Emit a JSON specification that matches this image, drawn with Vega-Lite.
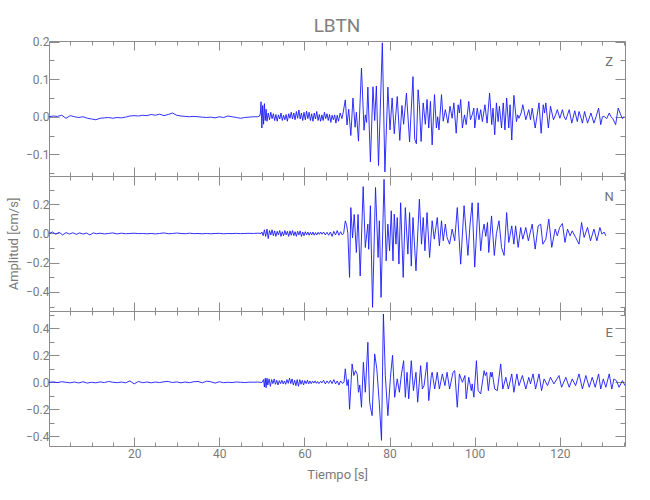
{
  "$schema": "https://vega.github.io/schema/vega-lite/v6.json",
  "padding": {"left": 7, "top": 16, "right": 26, "bottom": 20},
  "background": "white",
  "title": {"text": "LBTN", "fontSize": 19, "font": "Roboto", "fontWeight": "normal", "color": "#808080", "anchor": "middle", "frame": "group", "offset": 0},
  "config": {
    "view": {"stroke": null},
    "font": "Roboto",
    "axis": {"domainColor": "#8c8c8c", "tickColor": "#8c8c8c", "labelColor": "#7a7a7a", "titleColor": "#7a7a7a", "grid": false, "labelFont": "Roboto", "labelFontSize": 12, "titleFont": "Roboto", "titleFontSize": 13, "titleFontWeight": "normal", "labelOverlap": false, "labelFlush": false, "tickWidth": 1, "domainWidth": 1}
  },
  "datasets": {
    "Z": [
      {"t":0,"v":0},{"t":1,"v":0.002},{"t":2,"v":0.001},{"t":3,"v":0.004},{"t":4,"v":-0.004},{"t":5,"v":0.003},{"t":6,"v":0},{"t":7,"v":-0.002},{"t":8,"v":0},{"t":9,"v":-0.004},{"t":10,"v":-0.006},{"t":11,"v":-0.008},{"t":12,"v":-0.004},{"t":13,"v":-0.003},{"t":14,"v":-0.002},{"t":15,"v":-0.004},{"t":16,"v":-0.002},{"t":17,"v":-0.003},{"t":18,"v":-0.001},{"t":19,"v":0.002},{"t":20,"v":0.003},{"t":21,"v":0.002},{"t":22,"v":0.004},{"t":23,"v":0.003},{"t":24,"v":0.006},{"t":25,"v":0.004},{"t":26,"v":0.007},{"t":27,"v":0.003},{"t":28,"v":0.006},{"t":29,"v":0.01},{"t":30,"v":0.004},{"t":31,"v":0.002},{"t":32,"v":0.001},{"t":33,"v":0},{"t":34,"v":0.001},{"t":35,"v":0},{"t":36,"v":-0.001},{"t":37,"v":-0.002},{"t":38,"v":-0.001},{"t":39,"v":-0.003},{"t":40,"v":0},{"t":41,"v":-0.002},{"t":42,"v":0.002},{"t":43,"v":0},{"t":44,"v":-0.002},{"t":45,"v":-0.004},{"t":46,"v":-0.002},{"t":47,"v":-0.001},{"t":48,"v":0},{"t":49,"v":0},{"t":49.5,"v":0.002},
      {"t":49.65,"v":0.01},{"t":49.8,"v":0.04},{"t":50.0,"v":-0.03},{"t":50.2,"v":0.03},{"t":50.4,"v":-0.02},{"t":50.6,"v":0.035},{"t":50.8,"v":-0.01},{"t":51.0,"v":0.02},{"t":51.2,"v":-0.012},{"t":51.5,"v":0.01},{"t":51.8,"v":-0.008},{"t":52.1,"v":0.012},{"t":52.4,"v":-0.005},{"t":52.7,"v":0.008},{"t":53.0,"v":-0.01},{"t":53.3,"v":0.006},{"t":53.6,"v":-0.012},{"t":53.9,"v":0.005},{"t":54.2,"v":-0.006},{"t":54.5,"v":0.01},{"t":54.8,"v":-0.01},{"t":55.1,"v":0.004},{"t":55.4,"v":-0.008},{"t":55.7,"v":0.006},{"t":56.0,"v":-0.012},{"t":56.3,"v":0.008},{"t":56.6,"v":-0.004},{"t":56.9,"v":0.012},{"t":57.2,"v":-0.006},{"t":57.5,"v":0.01},{"t":57.8,"v":-0.008},{"t":58.1,"v":0.014},{"t":58.4,"v":-0.004},{"t":58.7,"v":0.018},{"t":59.0,"v":-0.006},{"t":59.3,"v":0.01},{"t":59.6,"v":-0.01},{"t":59.9,"v":0.012},{"t":60.2,"v":-0.008},{"t":60.5,"v":0.015},{"t":60.8,"v":-0.005},{"t":61.1,"v":0.012},{"t":61.4,"v":-0.01},{"t":61.7,"v":0.008},{"t":62.0,"v":-0.012},{"t":62.3,"v":0.01},{"t":62.6,"v":-0.006},{"t":62.9,"v":0.014},{"t":63.2,"v":-0.01},{"t":63.5,"v":0.006},{"t":63.8,"v":-0.012},{"t":64.1,"v":0.005},{"t":64.4,"v":-0.01},{"t":64.7,"v":0.012},{"t":65.0,"v":-0.005},{"t":65.3,"v":0.008},{"t":65.6,"v":-0.01},{"t":65.9,"v":0.006},{"t":66.2,"v":-0.015},{"t":66.5,"v":0.004},{"t":66.8,"v":-0.008},{"t":67.1,"v":0.005},{"t":67.4,"v":-0.017},{"t":67.7,"v":0.004},{"t":68.0,"v":-0.012},{"t":68.4,"v":0.01},{"t":68.8,"v":-0.005},
      {"t":69.0,"v":0.005},{"t":69.6,"v":0.045},{"t":70.0,"v":-0.022},{"t":70.4,"v":0.02},{"t":70.9,"v":-0.05},{"t":71.4,"v":0.05},{"t":71.9,"v":-0.028},{"t":72.2,"v":0.012},{"t":72.7,"v":-0.065},{"t":73.4,"v":0.13},{"t":74.0,"v":-0.036},{"t":74.3,"v":0.005},{"t":74.6,"v":-0.015},{"t":74.9,"v":0.079},{"t":75.5,"v":-0.12},{"t":76.1,"v":0.08},{"t":76.5,"v":-0.01},{"t":76.9,"v":0.082},{"t":77.4,"v":-0.13},{"t":78.3,"v":0.197},{"t":78.9,"v":-0.147},{"t":79.6,"v":0.079},{"t":80.1,"v":-0.035},{"t":80.6,"v":0.05},{"t":81.1,"v":-0.045},{"t":81.8,"v":0.054},{"t":82.4,"v":-0.063},{"t":82.9,"v":0.03},{"t":83.3,"v":-0.02},{"t":83.96,"v":0.063},{"t":84.7,"v":-0.067},{"t":85.5,"v":0.107},{"t":85.9,"v":-0.06},{"t":86.3,"v":-0.072},{"t":86.7,"v":0.072},{"t":87.0,"v":0.032},{"t":87.4,"v":-0.066},{"t":87.9,"v":0.037},{"t":88.4,"v":-0.02},{"t":88.8,"v":0.046},{"t":89.2,"v":-0.03},{"t":89.6,"v":0.041},{"t":90.0,"v":-0.075},{"t":90.55,"v":0.059},{"t":91.0,"v":-0.03},{"t":91.3,"v":0.0},{"t":91.6,"v":-0.035},{"t":92.2,"v":0.059},{"t":92.6,"v":-0.012},{"t":93.1,"v":0.019},{"t":93.7,"v":-0.017},{"t":94.2,"v":0.028},{"t":94.7,"v":-0.004},{"t":95.1,"v":0.037},{"t":95.65,"v":-0.044},{"t":96.1,"v":0.032},{"t":96.4,"v":0.01},{"t":96.7,"v":0.046},{"t":97.1,"v":-0.03},{"t":97.6,"v":0.005},{"t":98.0,"v":-0.021},{"t":98.6,"v":0.041},{"t":99.0,"v":-0.008},{"t":99.4,"v":0.005},{"t":99.8,"v":0.023},{"t":100.0,"v":-0.03},{"t":100.6,"v":0.023},{"t":101.0,"v":-0.008},{"t":101.4,"v":0.019},{"t":101.8,"v":-0.013},{"t":102.4,"v":0.032},{"t":102.9,"v":-0.017},{"t":103.5,"v":0.063},{"t":104.0,"v":-0.021},{"t":104.3,"v":0.023},{"t":104.7,"v":-0.048},{"t":105.1,"v":0.037},{"t":105.5,"v":-0.013},{"t":105.8,"v":0.028},{"t":106.3,"v":-0.03},{"t":106.7,"v":0.037},{"t":107.1,"v":-0.035},{"t":107.5,"v":0.05},{"t":108.0,"v":-0.03},{"t":108.3,"v":0.032},{"t":108.7,"v":-0.062},{"t":109.2,"v":0.057},{"t":109.8,"v":-0.013},{"t":110.1,"v":0.005},{"t":110.4,"v":-0.004},{"t":110.9,"v":0.01},{"t":111.3,"v":0.032},{"t":112.0,"v":-0.008},{"t":112.7,"v":0.019},{"t":113.1,"v":-0.008},{"t":113.5,"v":0.023},{"t":114.2,"v":-0.03},{"t":114.6,"v":0.0},{"t":115.1,"v":0.037},{"t":115.6,"v":-0.044},{"t":116.1,"v":0.032},{"t":116.4,"v":0.01},{"t":116.7,"v":0.037},{"t":117.3,"v":-0.03},{"t":117.8,"v":0.028},{"t":118.5,"v":-0.008},{"t":119.0,"v":0.005},{"t":119.4,"v":0.019},{"t":120.0,"v":-0.004},{"t":120.6,"v":0.019},{"t":121.0,"v":0.0},{"t":121.4,"v":-0.008},{"t":122.2,"v":0.019},{"t":122.8,"v":-0.017},{"t":123.5,"v":0.016},{"t":124.1,"v":-0.013},{"t":124.5,"v":0.014},{"t":125.0,"v":-0.004},{"t":125.3,"v":-0.017},{"t":125.8,"v":0.014},{"t":126.5,"v":-0.017},{"t":127.3,"v":0.01},{"t":128.0,"v":-0.017},{"t":128.5,"v":0.0},{"t":129.1,"v":0.023},{"t":129.6,"v":-0.021},{"t":130.0,"v":0.0},{"t":130.4,"v":0.001},{"t":131.0,"v":-0.005},{"t":131.6,"v":0.01},{"t":132.0,"v":0.0},{"t":132.4,"v":-0.004},{"t":133.1,"v":-0.021},{"t":133.7,"v":0.023},{"t":134.3,"v":0.005},{"t":134.7,"v":-0.005},{"t":135.1,"v":0.001}
    ],
    "N": [
      {"t":0,"v":0},{"t":0.8,"v":0.01},{"t":1.6,"v":-0.005},{"t":2.4,"v":0.008},{"t":3.2,"v":-0.01},{"t":4.0,"v":0.006},{"t":4.8,"v":-0.004},{"t":5.6,"v":0.005},{"t":6.4,"v":-0.006},{"t":7.2,"v":0.004},{"t":8.0,"v":-0.004},{"t":8.8,"v":0.003},{"t":9.6,"v":-0.01},{"t":10.4,"v":0.004},{"t":11.2,"v":-0.002},{"t":12,"v":0.002},{"t":13,"v":-0.003},{"t":14,"v":0},{"t":15,"v":0.004},{"t":16,"v":-0.003},{"t":17,"v":0.002},{"t":18,"v":-0.002},{"t":19,"v":0},{"t":20,"v":0.002},{"t":21,"v":-0.001},{"t":22,"v":0},{"t":23,"v":-0.002},{"t":24,"v":0},{"t":25,"v":-0.003},{"t":26,"v":0},{"t":27,"v":0.004},{"t":28,"v":-0.002},{"t":29,"v":0},{"t":30,"v":0.003},{"t":31,"v":0},{"t":32,"v":-0.002},{"t":33,"v":0.002},{"t":34,"v":-0.001},{"t":35,"v":0},{"t":36,"v":-0.002},{"t":37,"v":0},{"t":38,"v":-0.002},{"t":39,"v":0},{"t":40,"v":0.001},{"t":41,"v":-0.002},{"t":42,"v":0},{"t":43,"v":-0.001},{"t":44,"v":0.001},{"t":45,"v":-0.001},{"t":46,"v":0},{"t":47,"v":0.001},{"t":48,"v":0},{"t":49,"v":0.002},{"t":49.8,"v":0},
      {"t":50.0,"v":0.01},{"t":50.3,"v":-0.015},{"t":50.6,"v":0.025},{"t":50.9,"v":-0.02},{"t":51.2,"v":0.03},{"t":51.5,"v":-0.035},{"t":51.8,"v":0.02},{"t":52.1,"v":-0.01},{"t":52.4,"v":0.025},{"t":52.7,"v":-0.015},{"t":53.0,"v":0.018},{"t":53.3,"v":-0.02},{"t":53.6,"v":0.015},{"t":53.9,"v":-0.01},{"t":54.2,"v":0.02},{"t":54.5,"v":-0.02},{"t":54.8,"v":0.012},{"t":55.1,"v":-0.015},{"t":55.4,"v":0.02},{"t":55.7,"v":-0.01},{"t":56.0,"v":0.015},{"t":56.3,"v":-0.02},{"t":56.6,"v":0.018},{"t":56.9,"v":-0.012},{"t":57.2,"v":0.02},{"t":57.5,"v":-0.015},{"t":57.8,"v":0.012},{"t":58.1,"v":-0.02},{"t":58.4,"v":0.015},{"t":58.7,"v":-0.01},{"t":59.0,"v":0.018},{"t":59.3,"v":-0.02},{"t":59.6,"v":0.01},{"t":59.9,"v":-0.015},{"t":60.2,"v":0.012},{"t":60.5,"v":-0.01},{"t":60.8,"v":0.01},{"t":61.1,"v":-0.012},{"t":61.4,"v":0.008},{"t":61.7,"v":-0.01},{"t":62.0,"v":0.01},{"t":62.3,"v":-0.012},{"t":62.6,"v":0.006},{"t":62.9,"v":-0.01},{"t":63.2,"v":0.008},{"t":63.5,"v":-0.006},{"t":63.8,"v":0.01},{"t":64.1,"v":-0.005},{"t":64.5,"v":0.01},{"t":64.9,"v":-0.01},{"t":65.3,"v":0.008},{"t":65.7,"v":-0.012},{"t":66.1,"v":0.01},{"t":66.5,"v":-0.02},{"t":66.9,"v":0.015},{"t":67.3,"v":-0.01},{"t":67.7,"v":0.02},{"t":68.1,"v":-0.012},{"t":68.5,"v":0.012},{"t":68.9,"v":-0.01},{"t":69.2,"v":0.0},
      {"t":69.6,"v":0.086},{"t":69.9,"v":0.06},{"t":70.2,"v":0.0},{"t":70.6,"v":-0.3},{"t":70.9,"v":0.177},{"t":71.3,"v":-0.03},{"t":71.7,"v":0.13},{"t":72.2,"v":-0.13},{"t":72.6,"v":0.13},{"t":73.1,"v":-0.29},{"t":73.8,"v":0.32},{"t":74.3,"v":-0.096},{"t":74.9,"v":0.064},{"t":75.1,"v":-0.108},{"t":75.5,"v":0.19},{"t":76.0,"v":-0.505},{"t":76.7,"v":0.314},{"t":77.3,"v":-0.164},{"t":77.6,"v":0.087},{"t":78.0,"v":-0.437},{"t":78.7,"v":0.37},{"t":79.2,"v":-0.187},{"t":79.6,"v":0.064},{"t":80.0,"v":-0.118},{"t":80.4,"v":0.155},{"t":80.8,"v":-0.187},{"t":81.1,"v":0.132},{"t":81.5,"v":-0.073},{"t":81.8,"v":0.109},{"t":82.2,"v":-0.209},{"t":82.6,"v":0.21},{"t":83.2,"v":-0.3},{"t":83.7,"v":0.177},{"t":84.3,"v":-0.141},{"t":84.7,"v":0.143},{"t":85.1,"v":-0.223},{"t":85.5,"v":0.109},{"t":86.2,"v":-0.255},{"t":87.0,"v":0.234},{"t":87.5,"v":-0.073},{"t":87.9,"v":0.109},{"t":88.3,"v":-0.118},{"t":88.8,"v":0.143},{"t":89.4,"v":-0.164},{"t":90.0,"v":0.087},{"t":90.5,"v":-0.039},{"t":91.2,"v":0.109},{"t":91.7,"v":-0.084},{"t":92.2,"v":0.087},{"t":92.6,"v":-0.05},{"t":93.1,"v":0.064},{"t":93.5,"v":-0.027},{"t":94.1,"v":-0.073},{"t":94.7,"v":0.03},{"t":95.3,"v":-0.05},{"t":95.9,"v":0.177},{"t":96.7,"v":-0.21},{"t":97.5,"v":0.19},{"t":98.4,"v":-0.15},{"t":98.9,"v":0.064},{"t":99.4,"v":0.21},{"t":100.0,"v":-0.23},{"t":100.8,"v":0.21},{"t":101.4,"v":-0.118},{"t":101.8,"v":0.0},{"t":102.2,"v":0.064},{"t":102.6,"v":-0.02},{"t":103.0,"v":0.075},{"t":103.3,"v":-0.13},{"t":103.95,"v":0.12},{"t":104.6,"v":-0.15},{"t":105.1,"v":0.0},{"t":105.7,"v":0.087},{"t":106.3,"v":-0.096},{"t":106.9,"v":-0.15},{"t":107.5,"v":0.143},{"t":108.0,"v":-0.061},{"t":108.7,"v":0.052},{"t":109.2,"v":-0.073},{"t":109.6,"v":0.052},{"t":110.2,"v":-0.095},{"t":110.8,"v":0.041},{"t":111.3,"v":-0.039},{"t":112.0,"v":0.041},{"t":112.6,"v":-0.05},{"t":113.5,"v":0.064},{"t":114.2,"v":-0.107},{"t":114.9,"v":0.052},{"t":115.5,"v":0.064},{"t":116.0,"v":-0.073},{"t":116.7,"v":-0.039},{"t":117.4,"v":0.098},{"t":118.1,"v":-0.095},{"t":118.9,"v":0.03},{"t":119.4,"v":-0.016},{"t":119.95,"v":0.041},{"t":120.6,"v":0.068},{"t":121.2,"v":-0.061},{"t":121.8,"v":0.03},{"t":122.4,"v":-0.016},{"t":122.9,"v":0.018},{"t":123.7,"v":-0.027},{"t":124.5,"v":-0.073},{"t":125.1,"v":0.075},{"t":125.7,"v":-0.027},{"t":126.5,"v":0.041},{"t":127.2,"v":-0.05},{"t":128.0,"v":0.03},{"t":128.7,"v":-0.05},{"t":129.4,"v":0.041},{"t":129.9,"v":-0.005},{"t":130.4,"v":0.01},{"t":130.8,"v":-0.016}
    ],
    "E": [
      {"t":0,"v":0},{"t":1,"v":0.003},{"t":2,"v":-0.002},{"t":3,"v":0.004},{"t":4,"v":0},{"t":5,"v":-0.004},{"t":6,"v":0.002},{"t":7,"v":-0.005},{"t":8,"v":0.004},{"t":9,"v":-0.006},{"t":10,"v":0},{"t":11,"v":-0.004},{"t":12,"v":0.003},{"t":13,"v":-0.002},{"t":14,"v":0.006},{"t":15,"v":0},{"t":16,"v":-0.003},{"t":17,"v":0.002},{"t":18,"v":-0.004},{"t":19,"v":0.01},{"t":20,"v":-0.012},{"t":21,"v":0.006},{"t":22,"v":-0.003},{"t":23,"v":0.002},{"t":24,"v":-0.004},{"t":25,"v":0.002},{"t":26,"v":-0.002},{"t":27,"v":0.004},{"t":28,"v":0.006},{"t":29,"v":-0.002},{"t":30,"v":0.003},{"t":31,"v":-0.004},{"t":32,"v":0.002},{"t":33,"v":-0.003},{"t":34,"v":0.004},{"t":35,"v":0.006},{"t":36,"v":-0.004},{"t":37,"v":0.008},{"t":38,"v":0.004},{"t":39,"v":-0.006},{"t":40,"v":0.004},{"t":41,"v":-0.003},{"t":42,"v":0},{"t":43,"v":-0.002},{"t":44,"v":0.002},{"t":45,"v":0},{"t":46,"v":-0.002},{"t":47,"v":0.001},{"t":48,"v":0},{"t":49,"v":0.002},{"t":50,"v":-0.002},
      {"t":50.4,"v":0.02},{"t":50.6,"v":-0.035},{"t":50.8,"v":0.03},{"t":51.0,"v":-0.04},{"t":51.2,"v":0.03},{"t":51.4,"v":-0.02},{"t":51.7,"v":0.025},{"t":52.0,"v":-0.03},{"t":52.3,"v":0.02},{"t":52.6,"v":-0.01},{"t":52.9,"v":0.025},{"t":53.2,"v":-0.015},{"t":53.5,"v":0.015},{"t":53.8,"v":-0.02},{"t":54.1,"v":0.012},{"t":54.4,"v":-0.01},{"t":54.7,"v":0.015},{"t":55.0,"v":-0.012},{"t":55.3,"v":0.01},{"t":55.6,"v":-0.015},{"t":55.9,"v":0.02},{"t":56.2,"v":-0.008},{"t":56.5,"v":0.03},{"t":56.8,"v":-0.01},{"t":57.1,"v":0.025},{"t":57.4,"v":-0.02},{"t":57.7,"v":0.015},{"t":58.0,"v":-0.025},{"t":58.3,"v":0.02},{"t":58.6,"v":-0.03},{"t":58.9,"v":0.02},{"t":59.2,"v":-0.015},{"t":59.5,"v":0.015},{"t":59.8,"v":-0.02},{"t":60.1,"v":0.012},{"t":60.4,"v":-0.01},{"t":60.7,"v":0.015},{"t":61.0,"v":-0.012},{"t":61.3,"v":0.01},{"t":61.6,"v":-0.01},{"t":61.9,"v":0.008},{"t":62.2,"v":-0.006},{"t":62.5,"v":0.01},{"t":62.8,"v":-0.008},{"t":63.1,"v":0.006},{"t":63.4,"v":-0.01},{"t":63.8,"v":0.008},{"t":64.1,"v":-0.005},{"t":64.5,"v":0.015},{"t":64.9,"v":-0.012},{"t":65.3,"v":0.01},{"t":65.7,"v":-0.008},{"t":66.1,"v":0.015},{"t":66.5,"v":-0.01},{"t":66.9,"v":0.02},{"t":67.3,"v":-0.012},{"t":67.7,"v":0.01},{"t":68.1,"v":-0.02},{"t":68.5,"v":0.01},{"t":68.9,"v":-0.008},
      {"t":69.3,"v":0.0},{"t":69.6,"v":0.1},{"t":70.0,"v":-0.025},{"t":70.3,"v":0.02},{"t":70.6,"v":-0.2},{"t":71.2,"v":0.136},{"t":71.6,"v":0.05},{"t":72.0,"v":0.086},{"t":72.4,"v":0.06},{"t":72.7,"v":-0.074},{"t":73.0,"v":-0.02},{"t":73.4,"v":-0.185},{"t":73.85,"v":0.148},{"t":74.3,"v":-0.074},{"t":74.9,"v":0.296},{"t":75.3,"v":-0.14},{"t":75.5,"v":-0.185},{"t":75.9,"v":-0.247},{"t":76.5,"v":0.21},{"t":77.0,"v":0.1},{"t":77.6,"v":-0.16},{"t":78.1,"v":-0.43},{"t":78.55,"v":0.506},{"t":79.0,"v":0.05},{"t":79.6,"v":-0.247},{"t":80.2,"v":0.037},{"t":80.7,"v":0.2},{"t":81.2,"v":-0.111},{"t":81.8,"v":0.025},{"t":82.3,"v":-0.074},{"t":82.8,"v":0.062},{"t":83.3,"v":0.16},{"t":83.7,"v":-0.111},{"t":84.1,"v":0.074},{"t":84.5,"v":-0.123},{"t":85.1,"v":0.16},{"t":85.6,"v":-0.062},{"t":86.2,"v":0.074},{"t":86.6,"v":-0.148},{"t":87.3,"v":0.123},{"t":87.7,"v":-0.05},{"t":88.1,"v":-0.025},{"t":88.8,"v":0.148},{"t":89.2,"v":-0.136},{"t":89.8,"v":0.05},{"t":90.0,"v":0.074},{"t":90.6,"v":-0.05},{"t":91.2,"v":0.074},{"t":91.7,"v":-0.05},{"t":92.4,"v":0.062},{"t":93.0,"v":-0.025},{"t":93.5,"v":0.074},{"t":94.1,"v":-0.05},{"t":94.9,"v":0.074},{"t":95.3,"v":0.086},{"t":95.9,"v":-0.185},{"t":96.4,"v":0.062},{"t":97.1,"v":0.0},{"t":97.7,"v":0.05},{"t":98.0,"v":-0.123},{"t":98.6,"v":0.037},{"t":99.2,"v":-0.062},{"t":99.4,"v":-0.012},{"t":99.8,"v":-0.111},{"t":100.4,"v":0.16},{"t":100.8,"v":-0.062},{"t":101.4,"v":-0.086},{"t":102.2,"v":0.086},{"t":102.5,"v":0.05},{"t":102.8,"v":0.074},{"t":103.2,"v":-0.062},{"t":103.7,"v":0.074},{"t":103.9,"v":0.04},{"t":104.1,"v":0.074},{"t":104.7,"v":-0.05},{"t":105.3,"v":-0.062},{"t":106.1,"v":0.136},{"t":106.6,"v":-0.05},{"t":107.3,"v":0.037},{"t":107.9,"v":-0.05},{"t":108.7,"v":0.062},{"t":109.2,"v":-0.074},{"t":109.9,"v":0.062},{"t":110.4,"v":-0.025},{"t":111.2,"v":0.05},{"t":112.0,"v":-0.05},{"t":112.7,"v":0.037},{"t":113.1,"v":-0.012},{"t":113.7,"v":0.062},{"t":114.3,"v":-0.05},{"t":115.1,"v":0.062},{"t":115.7,"v":-0.062},{"t":116.3,"v":0.025},{"t":117.1,"v":-0.025},{"t":117.8,"v":0.037},{"t":118.6,"v":-0.012},{"t":119.8,"v":0.05},{"t":120.4,"v":-0.037},{"t":121.4,"v":0.037},{"t":122.2,"v":-0.037},{"t":122.9,"v":0.025},{"t":123.7,"v":-0.025},{"t":124.5,"v":0.062},{"t":125.3,"v":-0.05},{"t":126.1,"v":0.05},{"t":126.9,"v":-0.037},{"t":127.6,"v":0.037},{"t":128.3,"v":-0.037},{"t":129.1,"v":0.062},{"t":129.6,"v":-0.05},{"t":130.2,"v":0.025},{"t":130.8,"v":-0.037},{"t":131.6,"v":0.062},{"t":132.2,"v":-0.05},{"t":132.7,"v":0.025},{"t":133.3,"v":0.012},{"t":133.9,"v":-0.037},{"t":134.7,"v":0.012},{"t":135.3,"v":-0.025}
    ]
  },
  "vconcat": [
    {
      "width": 576, "height": 135,
      "layer": [
        {
          "data": {"name": "Z"},
          "mark": {"type": "line", "color": "#1a1aff", "strokeWidth": 0.9},
          "encoding": {
            "x": {"field": "t", "type": "quantitative", "scale": {"domain": [0, 135.3], "nice": false, "zero": false},
              "axis": {"orient": "bottom", "values": [5,10,15,20,25,30,35,40,45,50,55,60,65,70,75,80,85,90,95,100,105,110,115,120,125,130,135], "labels": false, "title": null,
                "tickSize": {"condition": {"test": "datum.value % 20 === 0", "value": -9}, "value": -4}}},
            "y": {"field": "v", "type": "quantitative", "scale": {"domain": [-0.158, 0.202], "nice": false, "zero": false},
              "axis": {"orient": "left", "values": [-0.15,-0.1,-0.05,0,0.05,0.1,0.15,0.2], "title": null, "labelPadding": 10,
                "labelExpr": "abs(datum.value*10 - round(datum.value*10)) < 0.001 ? format(datum.value, '.1f') : ''",
                "tickSize": {"condition": {"test": "abs(datum.value*10 - round(datum.value*10)) < 0.001", "value": -10}, "value": -5}}}
          }
        },
        {
          "data": {"name": "Z"},
          "mark": {"type": "line", "strokeOpacity": 0},
          "encoding": {
            "x": {"field": "t", "type": "quantitative", "scale": {"domain": [0, 135.3], "nice": false, "zero": false},
              "axis": {"orient": "top", "values": [5,10,15,20,25,30,35,40,45,50,55,60,65,70,75,80,85,90,95,100,105,110,115,120,125,130,135], "labels": false, "title": null,
                "tickSize": {"condition": {"test": "datum.value % 20 === 0", "value": -9}, "value": -4}}},
            "y": {"field": "v", "type": "quantitative", "scale": {"domain": [-0.158, 0.202], "nice": false, "zero": false},
              "axis": {"orient": "right", "values": [-0.15,-0.1,-0.05,0,0.05,0.1,0.15,0.2], "labels": false, "title": null,
                "tickSize": {"condition": {"test": "abs(datum.value*10 - round(datum.value*10)) < 0.001", "value": -10}, "value": -5}}}
          }
        },
        {
          "data": {"values": [{"comp": "Z"}]},
          "mark": {"type": "text", "font": "Roboto", "fontSize": 13, "color": "#707070", "align": "center", "baseline": "middle"},
          "encoding": {
            "x": {"datum": 131.6, "type": "quantitative", "scale": {"domain": [0, 135.3], "nice": false, "zero": false}, "axis": null},
            "y": {"datum": 0.147, "type": "quantitative", "scale": {"domain": [-0.158, 0.202], "nice": false, "zero": false}, "axis": null},
            "text": {"field": "comp"}
          }
        }
      ]
    },
    {
      "width": 576, "height": 135,
      "layer": [
        {
          "data": {"name": "N"},
          "mark": {"type": "line", "color": "#1a1aff", "strokeWidth": 0.9},
          "encoding": {
            "x": {"field": "t", "type": "quantitative", "scale": {"domain": [0, 135.3], "nice": false, "zero": false},
              "axis": {"orient": "bottom", "values": [5,10,15,20,25,30,35,40,45,50,55,60,65,70,75,80,85,90,95,100,105,110,115,120,125,130,135], "labels": false, "title": null,
                "tickSize": {"condition": {"test": "datum.value % 20 === 0", "value": -9}, "value": -4}}},
            "y": {"field": "v", "type": "quantitative", "scale": {"domain": [-0.53, 0.393], "nice": false, "zero": false},
              "axis": {"orient": "left", "values": [-0.5,-0.4,-0.3,-0.2,-0.1,0,0.1,0.2,0.3], "title": "Amplitud [cm/s]", "titlePadding": 5, "labelPadding": 10,
                "labelExpr": "abs(datum.value*5 - round(datum.value*5)) < 0.001 ? format(datum.value, '.1f') : ''",
                "tickSize": {"condition": {"test": "abs(datum.value*5 - round(datum.value*5)) < 0.001", "value": -10}, "value": -5}}}
          }
        },
        {
          "data": {"name": "N"},
          "mark": {"type": "line", "strokeOpacity": 0},
          "encoding": {
            "x": {"field": "t", "type": "quantitative", "scale": {"domain": [0, 135.3], "nice": false, "zero": false},
              "axis": {"orient": "top", "values": [5,10,15,20,25,30,35,40,45,50,55,60,65,70,75,80,85,90,95,100,105,110,115,120,125,130,135], "labels": false, "title": null,
                "tickSize": {"condition": {"test": "datum.value % 20 === 0", "value": -9}, "value": -4}}},
            "y": {"field": "v", "type": "quantitative", "scale": {"domain": [-0.53, 0.393], "nice": false, "zero": false},
              "axis": {"orient": "right", "values": [-0.5,-0.4,-0.3,-0.2,-0.1,0,0.1,0.2,0.3], "labels": false, "title": null,
                "tickSize": {"condition": {"test": "abs(datum.value*5 - round(datum.value*5)) < 0.001", "value": -10}, "value": -5}}}
          }
        },
        {
          "data": {"values": [{"comp": "N"}]},
          "mark": {"type": "text", "font": "Roboto", "fontSize": 13, "color": "#707070", "align": "center", "baseline": "middle"},
          "encoding": {
            "x": {"datum": 131.6, "type": "quantitative", "scale": {"domain": [0, 135.3], "nice": false, "zero": false}, "axis": null},
            "y": {"datum": 0.248, "type": "quantitative", "scale": {"domain": [-0.53, 0.393], "nice": false, "zero": false}, "axis": null},
            "text": {"field": "comp"}
          }
        }
      ]
    },
    {
      "width": 576, "height": 135,
      "layer": [
        {
          "data": {"name": "E"},
          "mark": {"type": "line", "color": "#1a1aff", "strokeWidth": 0.9},
          "encoding": {
            "x": {"field": "t", "type": "quantitative", "scale": {"domain": [0, 135.3], "nice": false, "zero": false},
              "axis": {"orient": "bottom", "values": [5,10,15,20,25,30,35,40,45,50,55,60,65,70,75,80,85,90,95,100,105,110,115,120,125,130,135], "title": "Tiempo [s]", "titlePadding": 4, "labelPadding": 11,
                "labelExpr": "datum.value % 20 === 0 ? format(datum.value, 'd') : ''",
                "tickSize": {"condition": {"test": "datum.value % 20 === 0", "value": -9}, "value": -4}}},
            "y": {"field": "v", "type": "quantitative", "scale": {"domain": [-0.472, 0.528], "nice": false, "zero": false},
              "axis": {"orient": "left", "values": [-0.4,-0.3,-0.2,-0.1,0,0.1,0.2,0.3,0.4,0.5], "title": null, "labelPadding": 10,
                "labelExpr": "abs(datum.value*5 - round(datum.value*5)) < 0.001 ? format(datum.value, '.1f') : ''",
                "tickSize": {"condition": {"test": "abs(datum.value*5 - round(datum.value*5)) < 0.001", "value": -10}, "value": -5}}}
          }
        },
        {
          "data": {"name": "E"},
          "mark": {"type": "line", "strokeOpacity": 0},
          "encoding": {
            "x": {"field": "t", "type": "quantitative", "scale": {"domain": [0, 135.3], "nice": false, "zero": false},
              "axis": {"orient": "top", "values": [5,10,15,20,25,30,35,40,45,50,55,60,65,70,75,80,85,90,95,100,105,110,115,120,125,130,135], "labels": false, "title": null,
                "tickSize": {"condition": {"test": "datum.value % 20 === 0", "value": -9}, "value": -4}}},
            "y": {"field": "v", "type": "quantitative", "scale": {"domain": [-0.472, 0.528], "nice": false, "zero": false},
              "axis": {"orient": "right", "values": [-0.4,-0.3,-0.2,-0.1,0,0.1,0.2,0.3,0.4,0.5], "labels": false, "title": null,
                "tickSize": {"condition": {"test": "abs(datum.value*5 - round(datum.value*5)) < 0.001", "value": -10}, "value": -5}}}
          }
        },
        {
          "data": {"values": [{"comp": "E"}]},
          "mark": {"type": "text", "font": "Roboto", "fontSize": 13, "color": "#707070", "align": "center", "baseline": "middle"},
          "encoding": {
            "x": {"datum": 131.6, "type": "quantitative", "scale": {"domain": [0, 135.3], "nice": false, "zero": false}, "axis": null},
            "y": {"datum": 0.367, "type": "quantitative", "scale": {"domain": [-0.472, 0.528], "nice": false, "zero": false}, "axis": null},
            "text": {"field": "comp"}
          }
        }
      ]
    }
  ],
  "spacing": 0,
  "bounds": "flush"
}
